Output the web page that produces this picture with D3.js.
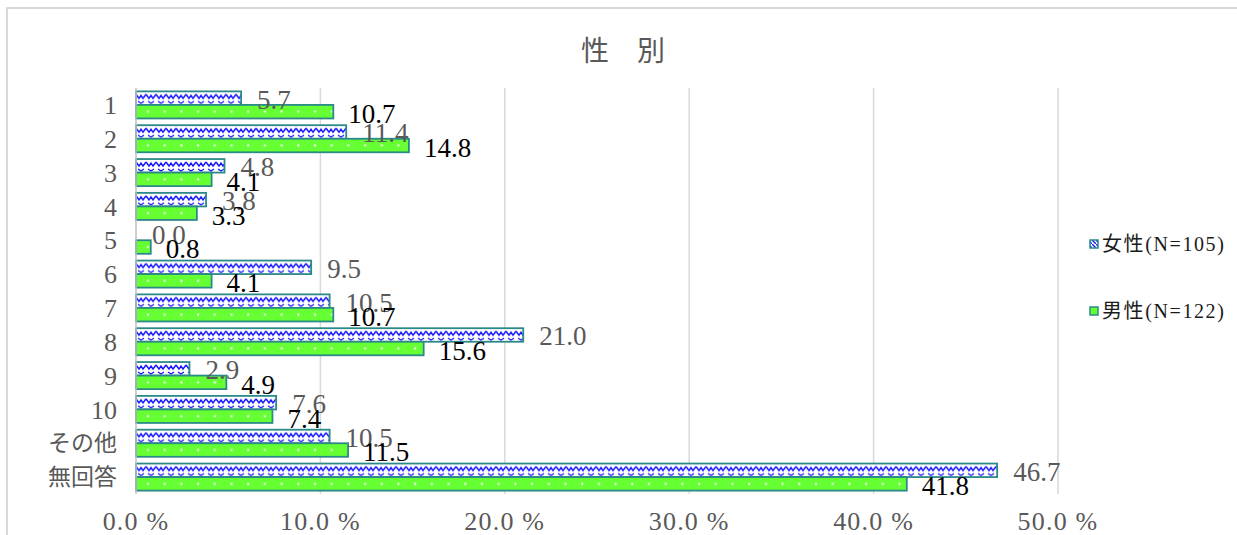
<!DOCTYPE html>
<html><head><meta charset="utf-8">
<script src="https://cdn.jsdelivr.net/npm/d3@7"></script>
<style>body{margin:0;background:#fff}svg{display:block}</style>
</head><body><svg id="c" width="1237" height="535"></svg>
<script>
const categories = ["1","2","3","4","5","6","7","8","9","10","その他","無回答"];
const female = [5.7,11.4,4.8,3.8,0.0,9.5,10.5,21.0,2.9,7.6,10.5,46.7];
const male = [10.7,14.8,4.1,3.3,0.8,4.1,10.7,15.6,4.9,7.4,11.5,41.8];
const seriesNames = ["女性(N=105)","男性(N=122)"];
const xTicks = [0,10,20,30,40,50];
const title = "性　別";

const svg = d3.select("#c");
const serif = "'Liberation Serif','Noto Sans CJK JP',serif";
const jp = "'Noto Sans CJK JP',sans-serif";
const teal = "#2b8a88";

const x = d3.scaleLinear().domain([0,50]).range([136,1058]);
const y = d3.scaleBand().domain(categories).range([88,494]).paddingInner(0.2).paddingOuter(0.1);
const barH = y.bandwidth()/2;
const step = y.step();

const defs = svg.append("defs");
const pz = defs.append("pattern").attr("id","zig").attr("patternUnits","userSpaceOnUse")
  .attr("x",136).attr("y",y(categories[0])).attr("width",10).attr("height",step);
pz.append("rect").attr("width",10).attr("height",step).attr("fill","#fff");
pz.append("path").attr("d","M0,3 L3,7 L5,4 L7,7 L10,3").attr("fill","none").attr("stroke","#1010ff").attr("stroke-width",1.4);
pz.append("path").attr("d","M2,10 L5,12 L8,10").attr("fill","none").attr("stroke","#1010ff").attr("stroke-width",1.2);
const pd = defs.append("pattern").attr("id","dots").attr("patternUnits","userSpaceOnUse")
  .attr("x",136).attr("y",y(categories[0])).attr("width",16.7).attr("height",step);
pd.append("rect").attr("width",16.7).attr("height",step).attr("fill","#66ff33");
pd.append("rect").attr("x",11).attr("y",barH*1.5-1).attr("width",2).attr("height",2).attr("fill","#fff");

const lz = defs.append("pattern").attr("id","zigL").attr("patternUnits","userSpaceOnUse").attr("width",4).attr("height",4);
lz.append("rect").attr("width",4).attr("height",4).attr("fill","#fff");
lz.append("path").attr("d","M0,0 L4,4").attr("stroke","#1a1aff").attr("stroke-width",1.4);

svg.append("path").attr("d","M7,535 L7,8 L1237,8").attr("fill","none").attr("stroke","#d9d9d9").attr("stroke-width",2);

svg.append("text").attr("x",623).attr("y",61).attr("text-anchor","middle")
  .attr("font-family",jp).attr("font-size",28).attr("fill","#595959").text(title);

svg.append("g").selectAll("line").data(xTicks.filter(d=>d>0)).join("line")
  .attr("x1",d=>x(d)).attr("x2",d=>x(d)).attr("y1",88).attr("y2",494)
  .attr("stroke","#d9d9d9").attr("stroke-width",1.5);

svg.append("g").selectAll("text").data(xTicks).join("text")
  .attr("x",d=>x(d)).attr("y",521).attr("dy","0.35em").attr("text-anchor","middle")
  .attr("font-family",serif).attr("font-size",26).attr("letter-spacing",1.2).attr("fill","#595959")
  .text(d=>d.toFixed(1)+" %");

const gF = svg.append("g");
gF.selectAll("rect").data(categories).join("rect")
  .attr("x",x(0)).attr("y",d=>y(d)).attr("width",(d,i)=>x(female[i])-x(0)).attr("height",barH)
  .attr("fill","url(#zig)").attr("stroke",teal).attr("stroke-width",1.8)
  .attr("display",(d,i)=>female[i]>0?null:"none");
const gM = svg.append("g");
gM.selectAll("rect").data(categories).join("rect")
  .attr("x",x(0)).attr("y",d=>y(d)+barH).attr("width",(d,i)=>x(male[i])-x(0)).attr("height",barH)
  .attr("fill","url(#dots)").attr("stroke",teal).attr("stroke-width",1.8);

svg.append("line").attr("x1",x(0)).attr("x2",x(0)).attr("y1",88).attr("y2",494)
  .attr("stroke","#bfbfbf").attr("stroke-width",1.5);

svg.append("g").selectAll("text").data(categories).join("text")
  .attr("x",117).attr("y",d=>y(d)+y.bandwidth()/2).attr("dy","0.35em").attr("text-anchor","end")
  .attr("font-family",serif).attr("font-size",d=>/^\d+$/.test(d)?26:23).attr("fill","#595959").text(d=>d);

svg.append("g").selectAll("text").data(categories).join("text")
  .attr("x",(d,i)=>x(female[i])+16).attr("y",d=>y(d)+barH/2+1).attr("dy","0.35em")
  .attr("font-family",serif).attr("font-size",27).attr("fill","#595959")
  .text((d,i)=>female[i].toFixed(1));
svg.append("g").selectAll("text").data(categories).join("text")
  .attr("x",(d,i)=>x(male[i])+15).attr("y",d=>y(d)+barH*1.5+2).attr("dy","0.35em")
  .attr("font-family",serif).attr("font-size",27).attr("fill","#000")
  .text((d,i)=>male[i].toFixed(1));

const leg = svg.append("g");
const fills = ["url(#zigL)","#66ff33"];
seriesNames.forEach((n,i)=>{
  const ly = [244,311][i];
  leg.append("rect").attr("x",1090).attr("y",ly-4).attr("width",8).attr("height",8)
    .attr("fill",fills[i]).attr("stroke",teal).attr("stroke-width",1.5);
  leg.append("text").attr("x",1102).attr("y",ly).attr("dy","0.35em")
    .attr("font-family",serif).attr("font-size",20).attr("letter-spacing",1.6).attr("fill","#1a1a1a").text(n);
});
</script></body></html>
